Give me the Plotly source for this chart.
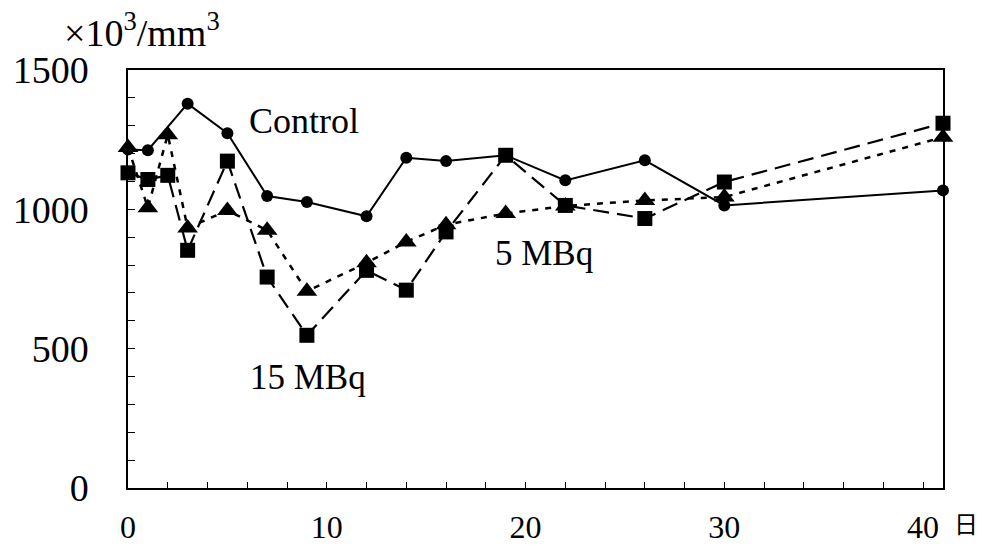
import plotly.graph_objects as go

# Data (days, ×10^3/mm^3)
control_days = [0, 1, 3, 5, 7, 9, 12, 14, 16, 19, 22, 26, 30, 41]
control_vals = [1215, 1212, 1379, 1273, 1048, 1026, 975, 1185, 1173, 1194, 1104, 1176, 1014, 1068]

mbq5_days = [0, 1, 2, 3, 5, 7, 9, 12, 14, 16, 19, 22, 26, 30, 41]
mbq5_vals = [1222, 1006, 1268, 933, 996, 925, 706, 808, 883, 945, 985, 1012, 1032, 1044, 1259]

mbq15_days = [0, 1, 2, 3, 5, 7, 9, 12, 14, 16, 19, 22, 26, 30, 41]
mbq15_vals = [1131, 1107, 1122, 853, 1173, 757, 548, 781, 710, 919, 1194, 1014, 967, 1098, 1309]

x_ticks = [0, 10, 20, 30, 40]
y_ticks = [0, 500, 1000, 1500]

SERIF = "Liberation Serif"

fig = go.Figure()
fig.add_trace(go.Scatter(
    x=control_days, y=control_vals, mode="lines+markers", name="Control",
    line=dict(color="black", width=2), cliponaxis=False,
    marker=dict(symbol="circle", size=12, color="black"),
))
fig.add_trace(go.Scatter(
    x=mbq5_days, y=mbq5_vals, mode="lines+markers", name="5 MBq",
    line=dict(color="black", width=2.5, dash="6px,7px"), cliponaxis=False,
    marker=dict(symbol="triangle-up", size=18, color="black"),
))
fig.add_trace(go.Scatter(
    x=mbq15_days, y=mbq15_vals, mode="lines+markers", name="15 MBq",
    line=dict(color="black", width=2.2, dash="16px,8px"), cliponaxis=False,
    marker=dict(symbol="square", size=15, color="black"),
))

fig.update_layout(
    width=982, height=547,
    margin=dict(l=128, r=39, t=70, b=59),
    paper_bgcolor="white", plot_bgcolor="white",
    showlegend=False,
    font=dict(family=SERIF, color="black"),
)
fig.update_xaxes(
    range=[0, 41], tickvals=x_ticks, ticktext=[str(v) for v in x_ticks],
    showgrid=False, zeroline=False, automargin=False,
    showline=True, linecolor="black", linewidth=1.5, mirror=True,
    ticks="inside", ticklen=6, tickwidth=1.2, tickcolor="black",
    minor=dict(dtick=2, ticks="inside", ticklen=6, tickwidth=1.2, tickcolor="black", showgrid=False),
    tickfont=dict(family=SERIF, size=32, color="black"),
    ticklabelstandoff=10,
)
fig.update_yaxes(
    range=[0, 1500], tickvals=y_ticks, ticktext=[str(v) for v in y_ticks],
    showgrid=False, zeroline=False, automargin=False,
    showline=True, linecolor="black", linewidth=1.5, mirror=True,
    ticks="inside", ticklen=7, tickwidth=1.2, tickcolor="black",
    minor=dict(dtick=100, ticks="inside", ticklen=7, tickwidth=1.2, tickcolor="black", showgrid=False),
    tickfont=dict(family=SERIF, size=38, color="black"),
    ticklabelstandoff=30,
)

fig.add_annotation(text="Control", x=6.0, y=1317, xref="x", yref="y",
                   xanchor="left", yanchor="middle", showarrow=False,
                   font=dict(family=SERIF, size=36, color="black"))
fig.add_annotation(text="5 MBq", x=18.36, y=843, xref="x", yref="y",
                   xanchor="left", yanchor="middle", showarrow=False,
                   font=dict(family=SERIF, size=35, color="black"))
fig.add_annotation(text="15 MBq", x=6.04, y=398, xref="x", yref="y",
                   xanchor="left", yanchor="middle", showarrow=False,
                   font=dict(family=SERIF, size=35, color="black"))
fig.add_annotation(text="×10<sup>3</sup>/mm<sup>3</sup>", x=(62 - 128) / 815, y=(488 - 30) / 418,
                   xref="paper", yref="paper", xanchor="left", yanchor="middle",
                   showarrow=False, font=dict(family=SERIF, size=38, color="black"))
fig.add_annotation(text="日", x=(966 - 128) / 815, y=(488 - 522) / 418,
                   xref="paper", yref="paper", xanchor="center", yanchor="middle",
                   showarrow=False, font=dict(family="Noto Sans CJK JP", size=24, color="black"))

fig.write_html("out.html")
